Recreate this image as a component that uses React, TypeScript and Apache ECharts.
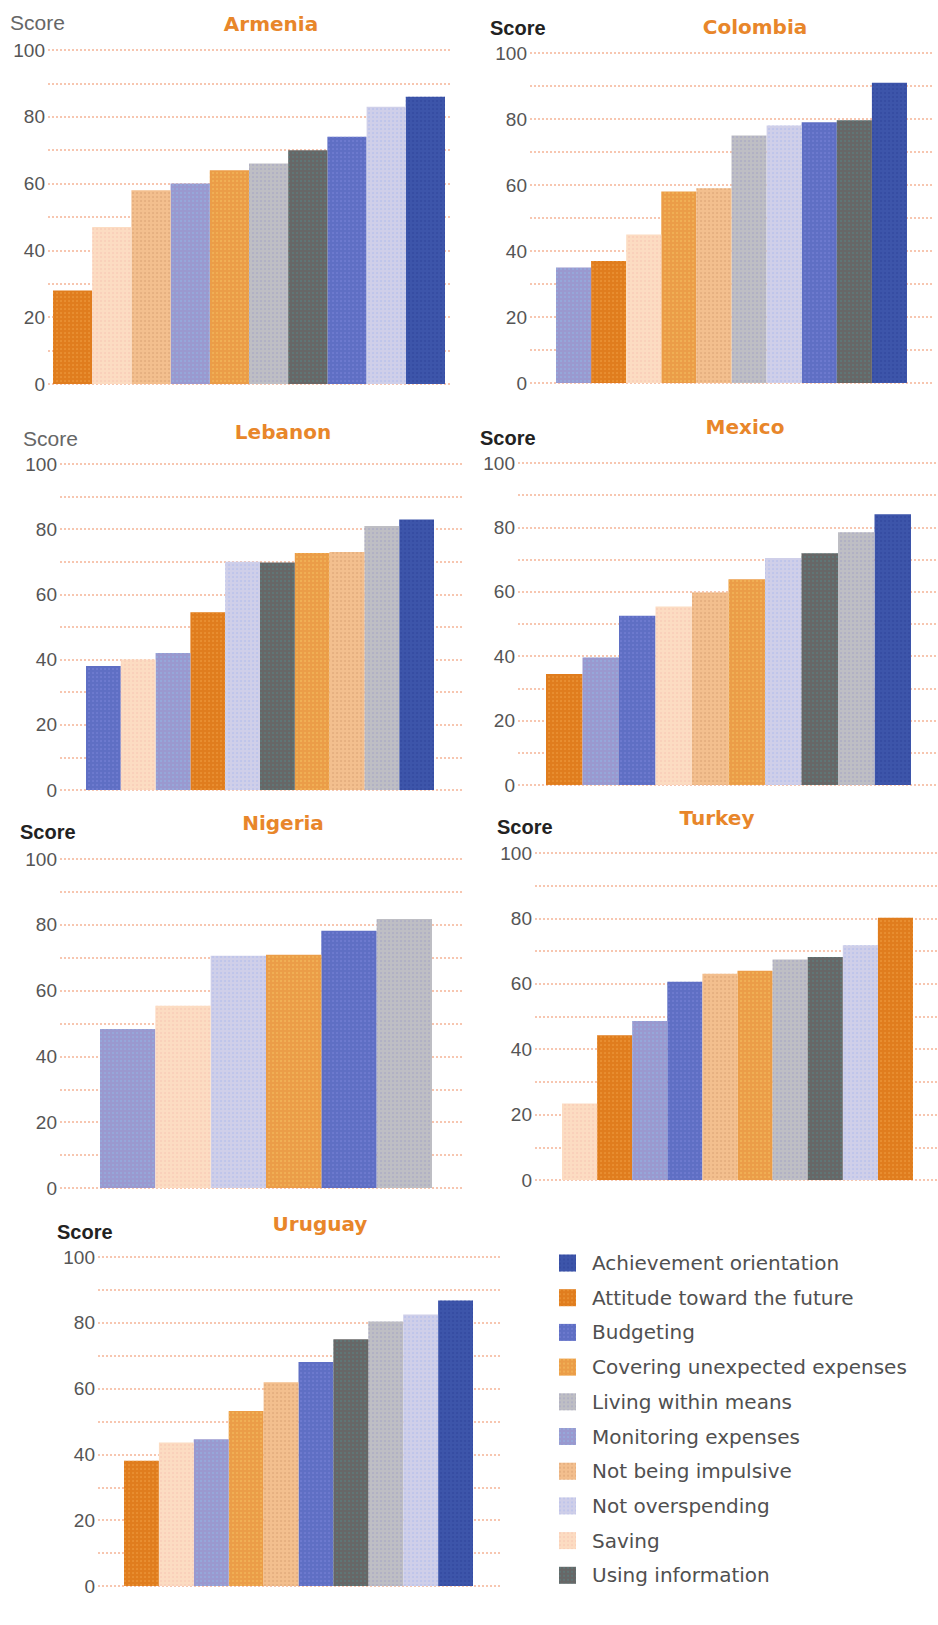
import React, { useEffect, useRef } from "react";
import * as echarts from "echarts";

// Financial-capability components shown in every country panel
const metrics = [
  "Achievement orientation",
  "Attitude toward the future",
  "Budgeting",
  "Covering unexpected expenses",
  "Living within means",
  "Monitoring expenses",
  "Not being impulsive",
  "Not overspending",
  "Saving",
  "Using information",
];

const metricColors = [
  "#3d55aa",
  "#e07d1e",
  "#5f6fc4",
  "#eb9d48",
  "#bebec4",
  "#9a99cf",
  "#f3bf8e",
  "#cfcfe9",
  "#fcdcc2",
  "#676767",
];

// colour of the fine dot texture printed over each fill
const metricDots = [
  "#2b3f97",
  "#f2a64a",
  "#8088dc",
  "#f7c867",
  "#9d9dc2",
  "#8fbce8",
  "#d39a6c",
  "#a9b6ec",
  "#f6bfae",
  "#558a8a",
];

const countries = ["Armenia", "Colombia", "Lebanon", "Mexico", "Nigeria", "Turkey", "Uruguay"];

// Bars in each panel, left to right, with their scores
const armeniaOrder = [
  "Attitude toward the future", "Saving", "Not being impulsive", "Monitoring expenses",
  "Covering unexpected expenses", "Living within means", "Using information", "Budgeting",
  "Not overspending", "Achievement orientation",
];
const armeniaScores = [28, 47, 58, 60, 64, 66, 70, 74, 83, 86];

const colombiaOrder = [
  "Monitoring expenses", "Attitude toward the future", "Saving", "Covering unexpected expenses",
  "Not being impulsive", "Living within means", "Not overspending", "Budgeting",
  "Using information", "Achievement orientation",
];
const colombiaScores = [35, 37, 45, 58, 59, 75, 78, 79, 79.6, 91];

const lebanonOrder = [
  "Budgeting", "Saving", "Monitoring expenses", "Attitude toward the future",
  "Not overspending", "Using information", "Covering unexpected expenses", "Not being impulsive",
  "Living within means", "Achievement orientation",
];
const lebanonScores = [38, 40, 42, 54.5, 70, 69.8, 72.7, 73, 81, 83];

const mexicoOrder = [
  "Attitude toward the future", "Monitoring expenses", "Budgeting", "Saving",
  "Not being impulsive", "Covering unexpected expenses", "Not overspending", "Using information",
  "Living within means", "Achievement orientation",
];
const mexicoScores = [34.5, 39.6, 52.6, 55.4, 59.8, 63.9, 70.5, 72, 78.5, 84.1];

const nigeriaOrder = [
  "Monitoring expenses", "Saving", "Not overspending", "Covering unexpected expenses",
  "Budgeting", "Living within means",
];
const nigeriaScores = [48.3, 55.4, 70.6, 70.9, 78.2, 81.8];

const turkeyOrder = [
  "Saving", "Attitude toward the future", "Monitoring expenses", "Budgeting",
  "Not being impulsive", "Covering unexpected expenses", "Living within means", "Using information",
  "Not overspending", "Achievement orientation",
];
const turkeyScores = [23.4, 44.3, 48.6, 60.6, 63.1, 64, 67.4, 68.2, 71.8, 80.2];

const uruguayOrder = [
  "Attitude toward the future", "Saving", "Monitoring expenses", "Covering unexpected expenses",
  "Not being impulsive", "Budgeting", "Using information", "Living within means",
  "Not overspending", "Achievement orientation",
];
const uruguayScores = [38.1, 43.6, 44.6, 53.2, 61.9, 68.1, 75, 80.4, 82.5, 86.8];

const yTicks = [0, 20, 40, 60, 80, 100];

const orders = [armeniaOrder, colombiaOrder, lebanonOrder, mexicoOrder, nigeriaOrder, turkeyOrder, uruguayOrder];
const scores = [armeniaScores, colombiaScores, lebanonScores, mexicoScores, nigeriaScores, turkeyScores, uruguayScores];

// In the Turkey panel the achievement bar is printed in the attitude colour
const turkeyColorSwap: Record<string, string> = {
  "Achievement orientation": "Attitude toward the future",
};

// Pixel layout of each panel: plot top, zero line, gridline span, bar span, title and "Score" label
const layouts = [
  { top: 50, zero: 384, gridL: 48, gridR: 452, barL: 53, barR: 445, titleX: 271, titleY: 24, scoreX: 10, scoreY: 22, bold: false },
  { top: 53, zero: 383, gridL: 530, gridR: 933, barL: 556, barR: 907, titleX: 755, titleY: 27, scoreX: 490, scoreY: 28, bold: true },
  { top: 464, zero: 790, gridL: 60, gridR: 462, barL: 86, barR: 434, titleX: 283, titleY: 432, scoreX: 23, scoreY: 438, bold: false },
  { top: 463, zero: 785, gridL: 518, gridR: 938, barL: 546, barR: 911, titleX: 745, titleY: 427, scoreX: 480, scoreY: 438, bold: true },
  { top: 859, zero: 1188, gridL: 60, gridR: 462, barL: 100, barR: 432, titleX: 283, titleY: 823, scoreX: 20, scoreY: 832, bold: true },
  { top: 853, zero: 1180, gridL: 535, gridR: 938, barL: 562, barR: 913, titleX: 717, titleY: 818, scoreX: 497, scoreY: 827, bold: true },
  { top: 1257, zero: 1586, gridL: 98, gridR: 500, barL: 124, barR: 473, titleX: 320, titleY: 1224, scoreX: 57, scoreY: 1232, bold: true },
];

const TITLE_COLOR = "#e8862a";

function dotDecal(color: string) {
  return {
    symbol: "circle",
    symbolSize: 0.7,
    color,
    dashArrayX: [2, 2],
    dashArrayY: [2, 2],
  };
}

function buildOption() {
  const grid: any[] = [];
  const xAxis: any[] = [];
  const yAxis: any[] = [];
  const series: any[] = [];
  const graphic: any[] = [];

  countries.forEach((country, i) => {
    const L = layouts[i];
    const order = orders[i];
    const vals = scores[i];
    const height = L.zero - L.top;

    // background grid: dotted gridlines and tick labels
    const bg = grid.length;
    grid.push({ left: L.gridL, top: L.top, width: L.gridR - L.gridL, height });
    xAxis.push({ gridIndex: bg, type: "category", data: [""], show: false });
    yAxis.push({
      gridIndex: bg,
      type: "value",
      min: 0,
      max: 100,
      interval: 10,
      axisLine: { show: false },
      axisTick: { show: false },
      axisLabel: {
        margin: 3,
        color: "#555555",
        fontSize: 19,
        fontFamily: "Liberation Sans",
        formatter: (v: number) => (yTicks.includes(v) ? String(v) : ""),
      },
      splitLine: {
        show: true,
        lineStyle: { color: "#f7c6b0", width: 2, type: [2, 2] },
      },
    });

    // bar grid
    const fg = grid.length;
    grid.push({ left: L.barL, top: L.top, width: L.barR - L.barL, height });
    xAxis.push({ gridIndex: fg, type: "category", data: order, show: false });
    yAxis.push({ gridIndex: fg, type: "value", min: 0, max: 100, show: false });

    metrics.forEach((m, k) => {
      if (!order.includes(m)) return;
      const swap = country === "Turkey" ? turkeyColorSwap[m] : undefined;
      const ci = swap ? metrics.indexOf(swap) : k;
      series.push({
        type: "bar",
        name: m,
        xAxisIndex: fg,
        yAxisIndex: fg,
        barGap: "-100%",
        barCategoryGap: 0,
        itemStyle: { color: metricColors[k], decal: dotDecal(metricDots[k]) },
        emphasis: { disabled: true },
        data: order.map((o, j) =>
          o === m
            ? { value: vals[j], itemStyle: { color: metricColors[ci], decal: dotDecal(metricDots[ci]) } }
            : "-"
        ),
      });
    });

    graphic.push({
      type: "text",
      x: L.titleX,
      y: L.titleY,
      style: {
        text: country,
        fill: TITLE_COLOR,
        font: "bold 20px 'DejaVu Sans'",
        textAlign: "center",
        textVerticalAlign: "middle",
      },
    });
    graphic.push({
      type: "text",
      x: L.scoreX,
      y: L.scoreY,
      style: {
        text: "Score",
        fill: L.bold ? "#222222" : "#666666",
        font: L.bold ? "bold 20px 'Liberation Sans'" : "21px 'Liberation Sans'",
        textAlign: "left",
        textVerticalAlign: "middle",
      },
    });
  });

  return {
    animation: false,
    backgroundColor: "#ffffff",
    grid,
    xAxis,
    yAxis,
    series,
    graphic,
    legend: {
      orient: "vertical",
      left: 554,
      top: 1248,
      itemWidth: 17,
      itemHeight: 17,
      itemGap: 14.7,
      icon: "rect",
      selectedMode: false,
      data: metrics,
      textStyle: {
        fontSize: 20,
        fontFamily: "DejaVu Sans",
        color: "#505050",
        padding: [0, 0, 0, 11],
      },
    },
  };
}

export default function App() {
  const ref = useRef<HTMLDivElement>(null);
  useEffect(() => {
    document.body.style.margin = "0";
    if (!ref.current) return;
    const chart = echarts.init(ref.current, undefined, { renderer: "svg" });
    chart.setOption(buildOption());
    return () => chart.dispose();
  }, []);
  return <div ref={ref} style={{ width: 938, height: 1625 }} />;
}
